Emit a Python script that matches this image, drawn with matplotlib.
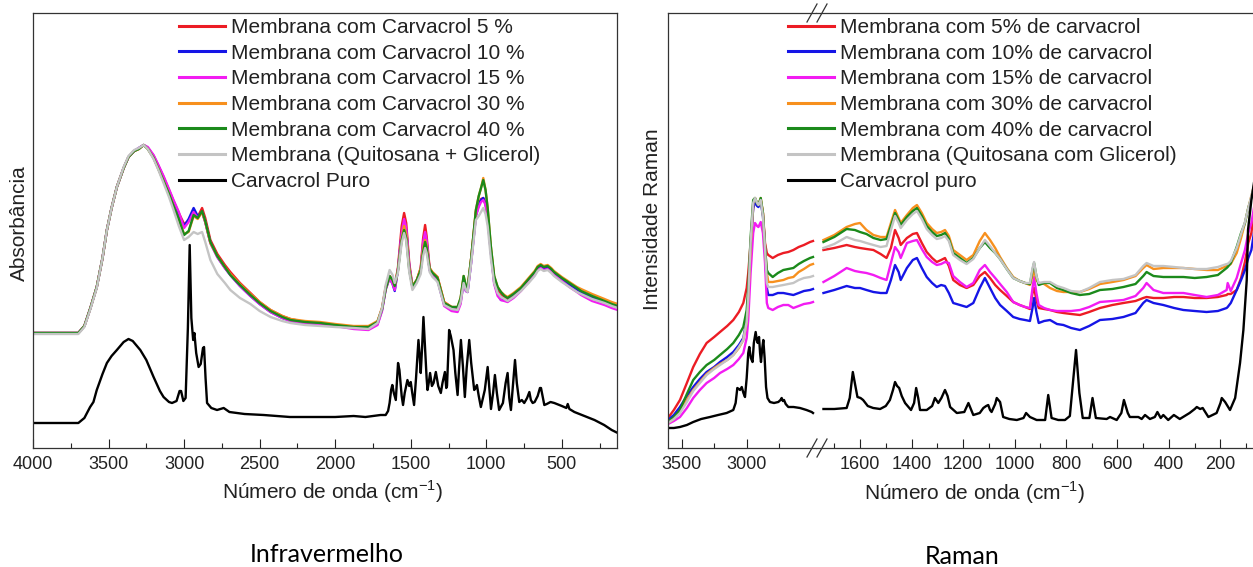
import matplotlib
matplotlib.use("Agg")
import matplotlib.pyplot as plt
from matplotlib.ticker import MultipleLocator, FixedLocator
from matplotlib.lines import Line2D

plt.rcParams['font.family'] = ['Liberation Sans', 'DejaVu Sans']
plt.rcParams['mathtext.fontset'] = 'custom'
plt.rcParams['mathtext.rm'] = 'Liberation Sans'

# ---------------- Infravermelho (FTIR) ----------------
ir_wn = [4000, 3850, 3700, 3660, 3620, 3578, 3540, 3511, 3480, 3445,
         3400, 3368, 3330, 3300, 3268, 3240, 3202, 3170, 3136, 3100,
         3070, 3035, 3000, 2970, 2937, 2910, 2881, 2860, 2826, 2780,
         2730, 2694, 2630, 2561, 2500, 2428, 2350, 2296, 2200, 2100,
         2000, 1878, 1780, 1720, 1690, 1666, 1640, 1620, 1606, 1585,
         1560, 1544, 1530, 1510, 1489, 1460, 1434, 1418, 1405, 1395,
         1375, 1356, 1335, 1323, 1300, 1279, 1230, 1190, 1170, 1150,
         1135, 1124, 1100, 1069, 1050, 1035, 1020, 1005, 991, 970,
         948, 925, 903, 880, 859, 820, 771, 720, 680, 660,
         640, 620, 594, 570, 552, 500, 450, 400, 373, 300,
         218, 170, 130]

ir_5 = [115, 115, 115, 122, 140, 161, 190, 218, 240, 261,
        280, 291, 297, 299, 303, 300, 292, 282, 271, 258,
        247, 235, 224, 227, 237, 231, 240, 230, 208, 194,
        183, 176, 165, 155, 146, 138, 132, 129, 126, 125,
        123, 121, 121, 126, 140, 161, 172, 168, 162, 180,
        222, 235, 225, 185, 162, 168, 180, 210, 223, 212,
        180, 175, 172, 171, 158, 146, 141, 140, 148, 170,
        160, 158, 190, 236, 244, 249, 250, 244, 230, 198,
        170, 159, 154, 151, 149, 152, 159, 168, 175, 180,
        182, 180, 181, 178, 175, 169, 164, 159, 156, 151,
        146, 143, 141]
ir_10 = [115, 115, 115, 122, 140, 161, 190, 218, 240, 261,
         280, 291, 297, 300, 303, 300, 292, 282, 270, 257,
         246, 233, 222, 229, 240, 232, 236, 226, 205, 191,
         180, 173, 162, 152, 144, 136, 130, 127, 125, 124,
         122, 120, 119, 124, 138, 159, 170, 164, 157, 178,
         214, 226, 218, 182, 161, 167, 178, 204, 214, 206,
         178, 173, 170, 168, 155, 144, 139, 138, 146, 166,
         157, 156, 186, 232, 243, 248, 250, 245, 230, 196,
         166, 154, 148, 148, 147, 151, 158, 167, 174, 179,
         181, 179, 180, 177, 174, 168, 163, 158, 155, 150,
         146, 143, 141]
ir_15 = [115, 115, 115, 122, 140, 161, 190, 218, 240, 261,
         280, 291, 297, 300, 303, 301, 293, 283, 272, 259,
         248, 236, 220, 226, 236, 230, 236, 226, 205, 191,
         180, 173, 162, 152, 144, 136, 130, 127, 125, 124,
         122, 119, 118, 123, 137, 158, 170, 164, 158, 178,
         215, 229, 220, 182, 161, 167, 178, 206, 216, 208,
         178, 173, 170, 168, 155, 142, 137, 136, 144, 166,
         157, 156, 186, 232, 241, 246, 248, 243, 228, 196,
         164, 152, 148, 147, 146, 150, 157, 166, 173, 178,
         180, 178, 179, 176, 173, 167, 161, 156, 153, 147,
         143, 140, 138]
ir_30 = [115, 115, 115, 122, 140, 161, 190, 218, 240, 261,
         280, 291, 297, 299, 303, 299, 290, 279, 267, 254,
         242, 228, 214, 216, 232, 229, 236, 226, 205, 192,
         181, 174, 164, 154, 146, 138, 132, 129, 127, 126,
         124, 122, 122, 127, 140, 160, 172, 168, 162, 178,
         210, 222, 214, 180, 162, 168, 180, 200, 208, 202,
         180, 176, 173, 171, 158, 146, 141, 141, 150, 172,
         162, 160, 190, 238, 252, 260, 270, 258, 240, 202,
         172, 161, 156, 153, 151, 155, 161, 170, 177, 182,
         184, 182, 183, 180, 177, 171, 166, 161, 159, 154,
         149, 146, 144]
ir_40 = [115, 115, 115, 122, 140, 161, 190, 218, 240, 261,
         280, 291, 297, 299, 303, 299, 290, 279, 267, 254,
         242, 229, 213, 217, 233, 230, 237, 227, 206, 192,
         181, 173, 163, 153, 145, 137, 131, 128, 126, 125,
         123, 121, 121, 126, 139, 159, 172, 168, 162, 177,
         208, 218, 210, 178, 161, 168, 178, 196, 206, 200,
         179, 175, 172, 170, 157, 145, 141, 141, 150, 172,
         162, 160, 190, 238, 252, 260, 268, 258, 240, 202,
         172, 161, 156, 152, 150, 154, 160, 169, 176, 181,
         183, 181, 182, 179, 176, 170, 165, 160, 157, 152,
         147, 144, 142]
ir_base = [114, 114, 114, 121, 139, 160, 190, 218, 240, 261,
           281, 292, 298, 300, 303, 299, 289, 278, 265, 251,
           238, 222, 208, 211, 216, 214, 216, 206, 188, 174,
           165, 158, 150, 144, 137, 131, 127, 125, 123, 122,
           121, 120, 119, 125, 140, 163, 178, 173, 165, 175,
           205, 215, 207, 176, 158, 165, 174, 192, 200, 195,
           176, 171, 168, 166, 154, 143, 139, 138, 146, 165,
           158, 156, 185, 228, 232, 236, 240, 234, 222, 190,
           165, 155, 151, 149, 147, 151, 157, 165, 172, 177,
           179, 177, 178, 175, 172, 166, 161, 156, 154, 149,
           145, 142, 140]

ir_carv_wn = [4000, 3850, 3700, 3660, 3622, 3600, 3578, 3540, 3511, 3480,
              3445, 3400, 3368, 3340, 3290, 3250, 3202, 3160, 3136, 3100,
              3080, 3050, 3030, 3020, 3005, 2990, 2975, 2963, 2952, 2940,
              2932, 2920, 2904, 2890, 2875, 2868, 2858, 2848, 2820, 2782,
              2738, 2700, 2600, 2473, 2300, 2100, 2000, 1878, 1800, 1700,
              1666, 1650, 1640, 1630, 1622, 1612, 1599, 1590, 1584, 1575,
              1560, 1551, 1540, 1522, 1510, 1500, 1490, 1478, 1465, 1449,
              1440, 1434, 1425, 1416, 1405, 1395, 1389, 1380, 1372, 1360,
              1349, 1334, 1318, 1301, 1290, 1274, 1265, 1260, 1250, 1246,
              1235, 1217, 1205, 1190, 1180, 1168, 1155, 1142, 1130, 1113,
              1100, 1080, 1070, 1062, 1050, 1036, 1010, 991, 980, 969,
              955, 943, 930, 915, 890, 872, 859, 848, 837, 825,
              810, 798, 782, 765, 749, 730, 715, 705, 693, 680,
              660, 645, 638, 625, 616, 600, 575, 550, 500, 470,
              461, 450, 417, 350, 284, 220, 170, 130]
ir_carv = [25, 25, 25, 30, 41, 46, 58, 74, 85, 92,
           98, 106, 109, 107, 98, 88, 71, 57, 51, 46,
           45, 47, 57, 57, 47, 50, 120, 203, 130, 108,
           115, 95, 81, 84, 100, 101, 70, 45, 40, 38,
           40, 36, 34, 33, 31, 31, 31, 32, 31, 33,
           33, 37, 45, 58, 63, 55, 48, 70, 85, 78,
           52, 43, 55, 68, 62, 66, 55, 43, 70, 108,
           90, 75, 100, 131, 100, 70, 58, 66, 75, 62,
           65, 76, 62, 55, 65, 76, 60, 62, 100, 118,
           112, 98, 75, 53, 80, 108, 82, 51, 80, 108,
           85, 58, 60, 63, 52, 41, 58, 81, 60, 39,
           55, 73, 55, 38, 45, 65, 75, 50, 38, 60,
           88, 65, 46, 48, 45, 50, 56, 48, 45, 46,
           52, 60, 60, 50, 43, 44, 46, 45, 42, 40,
           44, 39, 36, 32, 28, 23, 18, 15]

ir_labels = ['Membrana com Carvacrol 5 %', 'Membrana com Carvacrol 10 %',
             'Membrana com Carvacrol 15 %', 'Membrana com Carvacrol 30 %',
             'Membrana com Carvacrol 40 %', 'Membrana (Quitosana + Glicerol)',
             'Carvacrol Puro']

# ---------------- Raman ----------------
# regiao alta (3600-2490 cm-1)
ram_hi_wn = [3605, 3560, 3513, 3460, 3411, 3360, 3308, 3250, 3205, 3150,
             3103, 3060, 3026, 3000, 2988, 2970, 2950, 2936, 2920, 2910,
             2892, 2875, 2859, 2845, 2834, 2800, 2760, 2718, 2680, 2641,
             2600, 2560, 2513, 2490]
ram_hi_5 = [30, 38, 48, 65, 81, 94, 105, 111, 116, 122,
            128, 136, 145, 160, 175, 205, 240, 248, 244, 243,
            248, 235, 205, 195, 193, 190, 193, 195, 196, 198,
            201, 203, 206, 207]
ram_hi_10 = [28, 33, 41, 52, 61, 69, 76, 81, 86, 91,
             96, 103, 110, 128, 150, 200, 240, 246, 242, 241,
             246, 232, 200, 160, 153, 153, 155, 155, 154, 153,
             155, 157, 158, 159]
ram_hi_15 = [24, 27, 31, 40, 50, 58, 65, 70, 75, 79,
             83, 89, 95, 110, 128, 175, 215, 225, 222, 221,
             226, 215, 185, 145, 140, 138, 141, 143, 143, 140,
             142, 144, 145, 146]
ram_hi_30 = [25, 29, 37, 48, 58, 66, 74, 80, 84, 88,
             93, 100, 108, 125, 150, 200, 245, 250, 245, 243,
             250, 235, 201, 175, 166, 166, 167, 168, 170, 171,
             176, 179, 183, 184]
ram_hi_40 = [26, 31, 38, 54, 68, 76, 83, 88, 93, 99,
             105, 113, 121, 138, 160, 210, 248, 250, 245, 243,
             250, 235, 201, 178, 175, 171, 175, 178, 179, 180,
             184, 187, 190, 191]
ram_hi_base = [25, 29, 35, 46, 57, 65, 73, 79, 83, 88,
               93, 101, 108, 126, 150, 205, 245, 250, 245, 243,
               248, 232, 200, 165, 161, 161, 162, 163, 164, 165,
               168, 170, 171, 172]
ram_hi_carv_wn = [3605, 3560, 3513, 3460, 3411, 3350, 3282, 3220, 3154, 3103,
                  3085, 3072, 3060, 3051, 3038, 3025, 3013, 3000, 2988, 2980,
                  2968, 2955, 2945, 2931, 2922, 2915, 2905, 2897, 2890, 2880,
                  2872, 2862, 2851, 2840, 2821, 2790, 2757, 2740, 2731, 2722,
                  2713, 2700, 2680, 2640, 2590, 2540, 2500, 2490]
ram_hi_carv = [20, 20, 21, 23, 26, 29, 31, 33, 35, 38,
               45, 60, 59, 58, 61, 55, 51, 70, 95, 101,
               90, 86, 105, 116, 108, 105, 111, 95, 86, 100,
               108, 90, 61, 50, 46, 45, 46, 48, 50, 47,
               48, 44, 41, 41, 40, 38, 36, 35]

# regiao baixa (1750-70 cm-1)
ram_lo_wn = [1742, 1700, 1652, 1620, 1600, 1575, 1548, 1520, 1497, 1480,
             1464, 1450, 1442, 1418, 1395, 1379, 1360, 1341, 1320, 1302,
             1285, 1270, 1255, 1238, 1212, 1186, 1160, 1135, 1115, 1095,
             1075, 1056, 1030, 1005, 980, 959, 940, 930, 924, 915,
             906, 885, 862, 835, 810, 780, 746, 710, 668, 620,
             577, 530, 500, 487, 460, 422, 380, 344, 300, 254,
             210, 176, 172, 160, 137, 120, 105, 92, 80, 70]
ram_lo_5 = [198, 200, 203, 201, 200, 199, 198, 194, 190, 200,
            218, 210, 203, 210, 214, 215, 205, 196, 190, 186,
            188, 190, 182, 168, 163, 160, 163, 172, 176, 170,
            163, 158, 152, 146, 143, 141, 139, 155, 160, 148,
            140, 139, 138, 136, 135, 134, 133, 136, 140, 143,
            145, 147, 150, 151, 150, 150, 151, 151, 150, 150,
            151, 153, 154, 154, 158, 170, 186, 205, 215, 235]
ram_lo_10 = [155, 158, 162, 160, 160, 158, 156, 155, 155, 168,
             183, 176, 168, 180, 188, 190, 180, 171, 165, 161,
             163, 162, 155, 145, 143, 141, 145, 160, 170, 160,
             150, 143, 137, 131, 129, 128, 127, 140, 150, 136,
             125, 127, 128, 124, 123, 120, 118, 122, 128, 129,
             131, 135, 145, 148, 145, 143, 140, 138, 137, 136,
             137, 140, 141, 145, 158, 168, 178, 190, 198, 215]
ram_lo_15 = [166, 172, 180, 177, 176, 175, 173, 170, 168, 185,
             201, 196, 190, 205, 207, 208, 199, 191, 186, 183,
             184, 186, 185, 172, 166, 161, 165, 178, 183, 176,
             170, 164, 156, 146, 143, 141, 140, 160, 171, 155,
             143, 140, 138, 137, 137, 137, 138, 141, 146, 147,
             148, 152, 160, 165, 158, 155, 155, 155, 153, 151,
             153, 158, 165, 157, 170, 185, 198, 215, 225, 240]
ram_lo_30 = [208, 213, 221, 224, 225, 218, 213, 211, 211, 225,
             238, 230, 225, 233, 240, 243, 235, 225, 219, 215,
             216, 218, 212, 198, 193, 188, 193, 207, 215, 208,
             200, 191, 180, 171, 167, 165, 163, 172, 178, 168,
             165, 164, 160, 157, 156, 156, 156, 159, 164, 166,
             168, 172, 180, 183, 179, 180, 180, 180, 179, 178,
             178, 182, 182, 184, 195, 210, 225, 240, 252, 262]
ram_lo_40 = [206, 211, 219, 218, 216, 214, 210, 208, 209, 222,
             235, 228, 223, 231, 237, 240, 232, 222, 216, 212,
             213, 215, 209, 195, 190, 185, 190, 200, 206, 200,
             195, 189, 179, 170, 167, 165, 164, 178, 185, 172,
             163, 165, 165, 160, 158, 155, 153, 154, 158, 159,
             161, 164, 172, 176, 172, 171, 171, 171, 170, 171,
             173, 180, 181, 185, 201, 215, 225, 240, 250, 260]
ram_lo_base = [200, 204, 211, 208, 207, 205, 203, 201, 202, 218,
               232, 225, 220, 228, 234, 237, 229, 219, 213, 209,
               210, 212, 207, 193, 188, 184, 189, 200, 208, 202,
               195, 189, 179, 170, 167, 165, 165, 180, 186, 172,
               165, 166, 166, 162, 160, 157, 156, 160, 166, 168,
               169, 173, 182, 185, 182, 182, 181, 180, 179, 179,
               181, 184, 184, 187, 200, 214, 226, 240, 252, 262]
ram_lo_carv_wn = [1742, 1700, 1652, 1640, 1628, 1618, 1610, 1598, 1588, 1570,
                  1549, 1522, 1500, 1484, 1472, 1464, 1456, 1448, 1438, 1425,
                  1402, 1390, 1382, 1374, 1367, 1341, 1320, 1309, 1296, 1284,
                  1270, 1260, 1250, 1224, 1195, 1179, 1168, 1160, 1135, 1121,
                  1110, 1102, 1095, 1089, 1075, 1069, 1056, 1044, 1020, 991,
                  965, 955, 940, 914, 881, 869, 856, 830, 804, 785,
                  772, 761, 748, 735, 709, 697, 684, 642, 629, 603,
                  585, 575, 560, 552, 519, 506, 493, 474, 455, 445,
                  432, 422, 403, 381, 358, 320, 300, 292, 279, 269,
                  247, 215, 200, 195, 182, 163, 143, 124, 111, 98,
                  93, 80, 70]
ram_lo_carv = [39, 39, 40, 50, 76, 62, 51, 50, 48, 42,
               40, 39, 42, 48, 58, 66, 62, 60, 52, 45,
               38, 45, 60, 50, 38, 38, 42, 50, 45, 50,
               58, 52, 41, 35, 36, 45, 38, 33, 35, 40,
               42, 43, 38, 36, 44, 50, 46, 31, 29, 28,
               30, 35, 31, 28, 28, 53, 30, 28, 28, 32,
               68, 98, 55, 30, 30, 50, 30, 29, 31, 28,
               35, 48, 35, 31, 31, 29, 33, 29, 31, 36,
               30, 33, 28, 33, 29, 35, 39, 41, 39, 40,
               31, 35, 45, 50, 46, 38, 50, 85, 118, 168,
               218, 248, 265]

ram_labels = ['Membrana com 5% de carvacrol', 'Membrana com 10% de carvacrol',
              'Membrana com 15% de carvacrol', 'Membrana com 30% de carvacrol',
              'Membrana com 40% de carvacrol', 'Membrana (Quitosana com Glicerol)',
              'Carvacrol puro']

colors = ['#ec1c24', '#1515e6', '#f21cf2', '#f7901e', '#1b8a1b', '#c4c4c4', '#000000']

# ---------------- figura ----------------
W, H = 1253, 567
fig = plt.figure(figsize=(W / 100, H / 100), dpi=100)


def box(x0, y0, x1, y1):
    return [x0 / W, 1 - y1 / H, (x1 - x0) / W, (y1 - y0) / H]


ax_ir = fig.add_axes(box(33, 13, 617, 448))
ax_hi = fig.add_axes(box(668, 13, 816, 448))
ax_lo = fig.add_axes(box(816, 13, 1256, 448))

lw = 1.7
ir_series = [ir_5, ir_10, ir_15, ir_30, ir_40, ir_base]
for ys, c, lab in zip(ir_series, colors[:6], ir_labels[:6]):
    ax_ir.plot(ir_wn, ys, color=c, lw=lw, label=lab)
ax_ir.plot(ir_carv_wn, ir_carv, color='k', lw=lw, label=ir_labels[6])

hi_series = [ram_hi_5, ram_hi_10, ram_hi_15, ram_hi_30, ram_hi_40, ram_hi_base]
lo_series = [ram_lo_5, ram_lo_10, ram_lo_15, ram_lo_30, ram_lo_40, ram_lo_base]
for ys, c in zip(hi_series, colors[:6]):
    ax_hi.plot(ram_hi_wn, ys, color=c, lw=lw)
ax_hi.plot(ram_hi_carv_wn, ram_hi_carv, color='k', lw=lw)
for ys, c, lab in zip(lo_series, colors[:6], ram_labels[:6]):
    ax_lo.plot(ram_lo_wn, ys, color=c, lw=lw, label=lab)
ax_lo.plot(ram_lo_carv_wn, ram_lo_carv, color='k', lw=lw, label=ram_labels[6])

ax_ir.set_xlim(4000, 135)
ax_hi.set_xlim(3605, 2467)
ax_lo.set_xlim(1771, 62)
ax_ir.xaxis.set_major_locator(MultipleLocator(500))
ax_ir.xaxis.set_minor_locator(MultipleLocator(250))
ax_hi.xaxis.set_major_locator(FixedLocator([3500, 3000]))
ax_hi.xaxis.set_minor_locator(FixedLocator([3250, 2750]))
ax_lo.xaxis.set_major_locator(MultipleLocator(200))
ax_lo.xaxis.set_minor_locator(MultipleLocator(100))

for ax in (ax_ir, ax_hi, ax_lo):
    ax.set_ylim(0, 435)
    ax.set_yticks([])
    ax.tick_params(axis='x', which='both', direction='in', labelsize=13,
                   pad=6, width=0.8, colors='#222222', labelcolor='#222222')
    ax.tick_params(axis='x', which='major', length=6.5)
    ax.tick_params(axis='x', which='minor', length=3.8)
    for s in ax.spines.values():
        s.set_linewidth(0.9)
        s.set_color('#333333')
ax_hi.spines['right'].set_visible(False)
ax_lo.spines['left'].set_visible(False)

# marcas de quebra do eixo
for yc in (13, 448):
    for dx in (-5, 5):
        xc = 817 + dx
        fig.add_artist(Line2D([(xc - 5) / W, (xc + 5) / W],
                              [1 - (yc + 9) / H, 1 - (yc - 9) / H],
                              color='#333333', lw=0.9))

# legendas
leg_kw = dict(frameon=False, fontsize=15, borderpad=0, borderaxespad=0,
              handlelength=2.2, handletextpad=0.3, labelspacing=0.32,
              loc='upper left', bbox_transform=fig.transFigure)
leg1 = ax_ir.legend(bbox_to_anchor=(179 / W, 1 - 18 / H), **leg_kw)
leg2 = ax_lo.legend(bbox_to_anchor=(788 / W, 1 - 18 / H), **leg_kw)
for leg in (leg1, leg2):
    for ln in leg.get_lines():
        ln.set_linewidth(2.2)
    for t in leg.get_texts():
        t.set_color('#222222')

# rotulos
xl = 'Número de onda (cm$^{\\mathregular{-1}}$)'
fig.text(333 / W, 1 - 492 / H, xl, ha='center', va='center', fontsize=15, color='#222222')
fig.text(975 / W, 1 - 493 / H, xl, ha='center', va='center', fontsize=15, color='#222222')
fig.text(19 / W, 1 - 223 / H, 'Absorbância', rotation=90, ha='center', va='center',
         fontsize=15, color='#222222')
fig.text(652 / W, 1 - 219 / H, 'Intensidade Raman', rotation=90, ha='center', va='center',
         fontsize=15, color='#222222')

fig.text(327 / W, 1 - 555 / H, 'Infravermelho', ha='center', va='center', fontsize=18,
         family=['Lato', 'DejaVu Sans'])
fig.text(962 / W, 1 - 556 / H, 'Raman', ha='center', va='center', fontsize=18,
         family=['Lato', 'DejaVu Sans'])

fig.savefig('out.png', dpi=100)
